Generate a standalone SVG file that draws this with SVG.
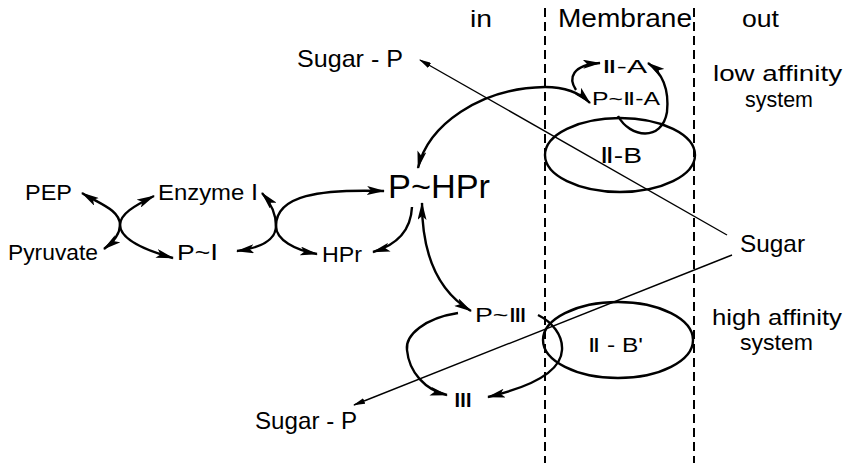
<svg xmlns="http://www.w3.org/2000/svg" width="848" height="463" viewBox="0 0 848 463">
<defs>
<style>
text{font-family:"Liberation Sans","DejaVu Sans",sans-serif;fill:#000}
.t22{font-size:22px}
.t24{font-size:24px}
.t20{font-size:20px}
.t18{font-size:18px}
.big{font-size:34px}
.arc{fill:none;stroke:#000;stroke-width:2.4}
.thin{fill:none;stroke:#000;stroke-width:1.4}
.dash{fill:none;stroke:#000;stroke-width:2;stroke-dasharray:9 5}
.ell{fill:none;stroke:#000;stroke-width:2.4}
</style>
<marker id="ah" viewBox="0 0 18 9" refX="17" refY="4.5" markerWidth="18" markerHeight="9" markerUnits="userSpaceOnUse" orient="auto-start-reverse"><path d="M0,0 L18,4.5 L0,9 L4,4.5 z" fill="#000"/></marker>
<marker id="sa" viewBox="0 0 12 6" refX="11" refY="3" markerWidth="12" markerHeight="6" markerUnits="userSpaceOnUse" orient="auto-start-reverse"><path d="M0,0 L12,3 L0,6 z" fill="#000"/></marker>
</defs>

<g id="membrane">
<line class="dash" x1="545" y1="8" x2="545" y2="463"/>
<line class="dash" x1="694" y1="8" x2="694" y2="463"/>
<text class="t24" x="470" y="27" textLength="22" lengthAdjust="spacingAndGlyphs">in</text>
<text class="t24" x="558" y="27" textLength="134" lengthAdjust="spacingAndGlyphs" style="font-size:26px">Membrane</text>
<text class="t24" x="742" y="27" textLength="37" lengthAdjust="spacingAndGlyphs">out</text>
</g>

<g id="low-affinity-label">
<text class="t22" x="713" y="81" textLength="129" lengthAdjust="spacingAndGlyphs">low affinity</text>
<text class="t22" x="745" y="107" textLength="68" lengthAdjust="spacingAndGlyphs">system</text>
</g>
<g id="high-affinity-label">
<text class="t22" x="712" y="325" textLength="130" lengthAdjust="spacingAndGlyphs">high affinity</text>
<text class="t22" x="740" y="350" textLength="73" lengthAdjust="spacingAndGlyphs">system</text>
</g>

<g id="node-PEP"><text class="t22" x="25" y="200" textLength="47" lengthAdjust="spacingAndGlyphs">PEP</text></g>
<g id="node-EnzymeI"><text class="t22" x="158" y="200" textLength="100" lengthAdjust="spacingAndGlyphs">Enzyme Ⅰ</text></g>
<g id="node-Pyruvate"><text class="t22" x="8" y="260" textLength="90" lengthAdjust="spacingAndGlyphs">Pyruvate</text></g>
<g id="node-PI"><text class="t22" x="177" y="260" textLength="41" lengthAdjust="spacingAndGlyphs">P~Ⅰ</text></g>
<g id="node-HPr"><text class="t22" x="322" y="262" textLength="40" lengthAdjust="spacingAndGlyphs">HPr</text></g>
<g id="node-PHPr"><text class="big" x="388" y="198" textLength="102" lengthAdjust="spacingAndGlyphs">P~HPr</text></g>
<g id="node-SugarP-top"><text class="t24" x="297" y="67" textLength="106" lengthAdjust="spacingAndGlyphs">Sugar - P</text></g>
<g id="node-SugarP-bottom"><text class="t24" x="255" y="429" textLength="102" lengthAdjust="spacingAndGlyphs">Sugar - P</text></g>
<g id="node-Sugar"><text class="t24" x="740" y="252" textLength="65" lengthAdjust="spacingAndGlyphs">Sugar</text></g>
<g id="node-IIA"><text class="t18" x="602" y="73" textLength="45" lengthAdjust="spacingAndGlyphs">Ⅱ-A</text></g>
<g id="node-PIIA"><text class="t18" x="592" y="105" textLength="68" lengthAdjust="spacingAndGlyphs">P~Ⅱ-A</text></g>
<g id="node-IIB">
<ellipse class="ell" cx="620" cy="155" rx="75" ry="37"/>
<text class="t22" x="600" y="163" textLength="42" lengthAdjust="spacingAndGlyphs">Ⅱ-B</text>
</g>
<g id="node-IIBprime">
<ellipse class="ell" cx="618" cy="340" rx="75" ry="38"/>
<text class="t20" x="588" y="352" textLength="55" lengthAdjust="spacingAndGlyphs">Ⅱ - B'</text>
</g>
<g id="node-PIII"><text class="t20" x="475" y="322" textLength="52" lengthAdjust="spacingAndGlyphs">P~Ⅲ</text></g>
<g id="node-III"><text class="t20" x="453" y="407" textLength="20" lengthAdjust="spacingAndGlyphs">Ⅲ</text></g>

<g id="connectors">
<path class="arc" d="M82 193 C100 204 120 210 120 225 C120 235 112 243 104 249" marker-start="url(#ah)" marker-end="url(#ah)"/>
<path class="arc" d="M154 196 C134 206 120 214 120 225 C120 240 148 251 173 258" marker-start="url(#ah)" marker-end="url(#ah)"/>
<path class="arc" d="M262 193 C270 202 276 214 276 226 C276 240 260 248 237 251" marker-start="url(#ah)" marker-end="url(#ah)"/>
<path class="arc" d="M384 191 C320 189 276 195 276 226 C276 240 295 250 317 254" marker-start="url(#ah)" marker-end="url(#ah)"/>
<path class="arc" d="M412 207 C411 228 400 244 373 252" marker-end="url(#ah)"/>
<path class="arc" d="M422 203 C422 250 436 290 471 311" marker-start="url(#ah)" marker-end="url(#ah)"/>
<path class="arc" d="M458 313 C425 318 405 335 407 350 C409 372 425 390 447 395" marker-end="url(#ah)"/>
<path class="arc" d="M538 315 C552 322 563 335 562 350 C561 372 530 387 488 397" marker-end="url(#ah)"/>
<path class="arc" d="M418 168 C428 125 480 88 545 87 C565 87 580 93 590 103" marker-start="url(#ah)" marker-end="url(#ah)"/>
<path class="arc" d="M576 90 C568 78 572 65 600 63" marker-end="url(#ah)"/>
<path class="arc" d="M618 116 C630 138 662 142 667 112 C669 92 664 74 648 63" marker-end="url(#ah)"/>
<path class="thin" d="M727 235 L420 60" marker-end="url(#sa)"/>
<path class="thin" d="M732 255 L354 405" marker-end="url(#sa)"/>
</g>
</svg>
